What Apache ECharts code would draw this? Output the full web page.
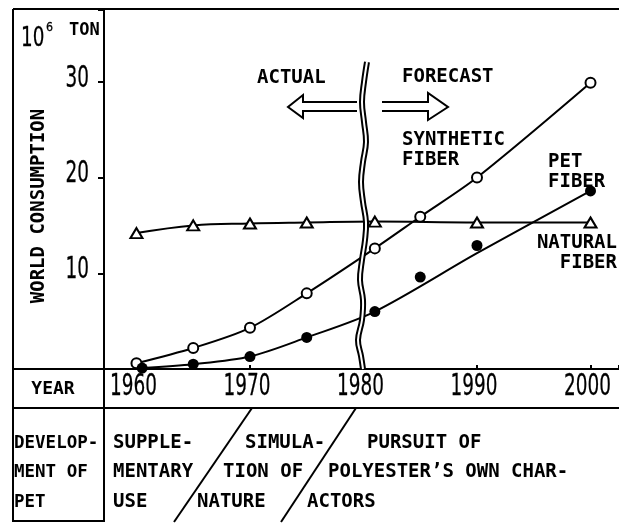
<!DOCTYPE html>
<html>
<head>
<meta charset="utf-8">
<script src="https://cdn.jsdelivr.net/npm/echarts@6/dist/echarts.min.js"></script>
<style>
  html, body { margin: 0; padding: 0; background: #fff; }
  #chart { width: 619px; height: 524px; }
</style>
</head>
<body>
<div id="chart"></div>
<script>
// world consumption, 10^6 ton
const naturalYears = [1960, 1965, 1970, 1975, 1981, 1990, 2000]
const naturalValues = [14.2, 15.0, 15.2, 15.3, 15.4, 15.3, 15.3]

const syntheticYears = [1960, 1965, 1970, 1975, 1981, 1985, 1990, 2000]
const syntheticValues = [0.6, 2.2, 4.3, 7.9, 12.6, 15.9, 20.0, 29.9]

// PET fiber: plotted points and the drawn trend curve
const petYears = [1960.5, 1965, 1970, 1975, 1981, 1985, 1990, 2000]
const petValues = [0.1, 0.5, 1.3, 3.3, 6.0, 9.6, 12.9, 18.6]
const petCurveYears = [1960.5, 1965, 1970, 1975, 1981, 1990, 2000]
const petCurveValues = [0.1, 0.5, 1.3, 3.3, 6.0, 12.1, 18.6]

const yTicks = [10, 20, 30]
const xTicks = [1960, 1970, 1980, 1990, 2000]

const MONO = '"DejaVu Sans Mono", monospace'
const NUM = '"DejaVu Sans", sans-serif'
// the scan uses a very condensed face for numerals, so squeeze them
const SQUEEZE = 0.615

const zip = (xs, ys) => xs.map((x, i) => [x, ys[i]])

function txt(text, x, y, size, align) {
    return {
        type: 'text',
        z: 10,
        style: {
            text: text,
            x: x,
            y: y,
            font: 'bold ' + size + 'px ' + MONO,
            fill: '#000',
            textAlign: align || 'left',
            textVerticalAlign: 'middle'
        }
    }
}

function num(text, x, y, size, align, sx) {
    return {
        type: 'text',
        z: 10,
        x: x,
        y: y,
        scaleX: sx || SQUEEZE,
        style: {
            text: text,
            x: 0,
            y: 0,
            font: size + 'px ' + NUM,
            fill: '#000',
            stroke: '#000',
            lineWidth: 0.3,
            textAlign: align || 'center',
            textVerticalAlign: 'middle'
        }
    }
}

function seg(x1, y1, x2, y2) {
    return {
        type: 'line',
        z: 10,
        shape: { x1: x1, y1: y1, x2: x2, y2: y2 },
        style: { stroke: '#000', lineWidth: 2 }
    }
}

const wavePts = [
    [367, 62], [364, 82], [362, 102], [364, 122], [366, 142], [363, 162],
    [361, 182], [363, 202], [366, 222], [365, 240], [362, 260], [360, 280],
    [363, 300], [362, 320], [358, 340], [361, 356], [363, 369]
]

const chart = echarts.init(document.getElementById('chart'))

chart.setOption({
    animation: false,
    backgroundColor: '#fff',
    grid: { left: 104, right: 0, top: 10, bottom: 155 },
    xAxis: {
        type: 'value',
        min: 1957.14,
        max: 2002.51,
        splitLine: { show: false },
        axisLine: { lineStyle: { color: '#000', width: 2 } },
        axisTick: { inside: true, length: 4, lineStyle: { color: '#000', width: 2 } },
        axisLabel: { show: false }
    },
    yAxis: {
        type: 'value',
        min: 0,
        max: 37.5,
        interval: 10,
        splitLine: { show: false },
        axisLine: { lineStyle: { color: '#000', width: 2 } },
        axisTick: { length: 6, lineStyle: { color: '#000', width: 2 } },
        axisLabel: { show: false }
    },
    series: [
        {
            name: 'NATURAL FIBER',
            type: 'line',
            smooth: 0.4,
            data: zip(naturalYears, naturalValues),
            symbol: 'triangle',
            symbolSize: [12, 10],
            lineStyle: { color: '#000', width: 2 },
            itemStyle: { color: '#fff', borderColor: '#000', borderWidth: 2 }
        },
        {
            name: 'SYNTHETIC FIBER',
            type: 'line',
            smooth: 0.3,
            data: zip(syntheticYears, syntheticValues),
            symbol: 'circle',
            symbolSize: 10,
            lineStyle: { color: '#000', width: 2 },
            itemStyle: { color: '#fff', borderColor: '#000', borderWidth: 2 }
        },
        {
            name: 'PET FIBER curve',
            type: 'line',
            smooth: 0.3,
            data: zip(petCurveYears, petCurveValues),
            symbol: 'none',
            lineStyle: { color: '#000', width: 2 }
        },
        {
            name: 'PET FIBER',
            type: 'scatter',
            data: zip(petYears, petValues),
            symbol: 'circle',
            symbolSize: 11,
            itemStyle: { color: '#000', opacity: 1 },
            z: 5
        }
    ]
})

// tick numerals, placed through the axes' own scales
const tickLabels = []
xTicks.forEach(v => {
    const px = chart.convertToPixel({ xAxisIndex: 0 }, v)
    tickLabels.push(num(String(v), px - 3, 387, 30))
})
yTicks.forEach(v => {
    const py = chart.convertToPixel({ yAxisIndex: 0 }, v)
    tickLabels.push(num(String(v), 89, py - 3, 30, 'right'))
})

chart.setOption({
    graphic: tickLabels.concat([
        // frame and table rules
        seg(13, 9, 619, 9),
        seg(13, 9, 13, 522),
        seg(13, 369, 104, 369),
        seg(104, 369, 104, 522),
        seg(13, 408, 619, 408),
        seg(13, 521, 104, 521),
        seg(252, 408, 174, 522),
        seg(356, 408, 281, 522),

        // actual / forecast break line
        {
            type: 'polyline', z: 11,
            shape: { points: wavePts, smooth: 0.4 },
            style: { stroke: '#000', lineWidth: 6, fill: null }
        },
        {
            type: 'polyline', z: 12,
            shape: { points: wavePts, smooth: 0.4 },
            style: { stroke: '#fff', lineWidth: 2, fill: null }
        },
        {
            type: 'polyline', z: 10,
            shape: { points: [[357, 102], [303, 102], [303, 95], [288, 107], [303, 118], [303, 111], [357, 111]] },
            style: { stroke: '#000', lineWidth: 2, fill: '#fff' }
        },
        {
            type: 'polyline', z: 10,
            shape: { points: [[382, 102], [428, 102], [428, 93], [448, 107], [428, 120], [428, 111], [382, 111]] },
            style: { stroke: '#000', lineWidth: 2, fill: '#fff' }
        },
        txt('ACTUAL', 257, 78, 19),
        txt('FORECAST', 402, 77, 19),

        // series labels
        txt('SYNTHETIC', 402, 140, 19),
        txt('FIBER', 402, 160, 19),
        txt('PET', 548, 162, 19),
        txt('FIBER', 548, 182, 19),
        txt('NATURAL', 617, 243, 19, 'right'),
        txt('FIBER', 617, 263, 19, 'right'),

        // unit and axis title
        num('10', 21, 39, 27, 'left', 0.68),
        num('6', 46, 28, 13, 'left', 0.85),
        txt('TON', 69, 31, 17),
        {
            type: 'text', z: 10,
            rotation: Math.PI / 2,
            x: 39, y: 206,
            style: {
                text: 'WORLD CONSUMPTION',
                x: 0, y: 0,
                font: 'bold 19px ' + MONO,
                fill: '#000',
                textAlign: 'center',
                textVerticalAlign: 'middle'
            }
        },

        // bottom table
        txt('YEAR', 53, 389, 18, 'center'),
        txt('DEVELOP-', 14, 443, 17.5),
        txt('MENT OF', 14, 472, 17.5),
        txt('PET', 14, 502, 17.5),
        txt('SUPPLE-', 113, 443, 19),
        txt('MENTARY', 113, 472, 19),
        txt('USE', 113, 502, 19),
        txt('SIMULA-', 245, 443, 19),
        txt('TION OF', 223, 472, 19),
        txt('NATURE', 197, 502, 19),
        txt('PURSUIT OF', 367, 443, 19),
        txt('POLYESTER\u2019S OWN CHAR-', 328, 472, 19),
        txt('ACTORS', 307, 502, 19)
    ])
})
</script>
</body>
</html>
